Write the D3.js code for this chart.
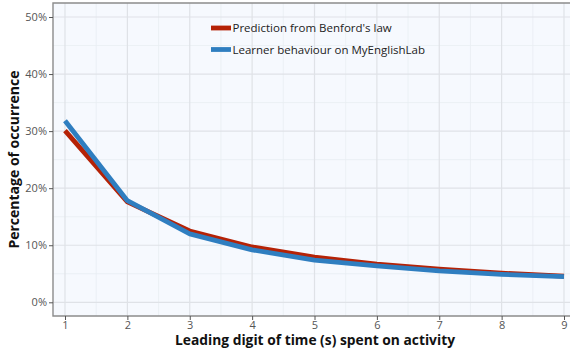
<!DOCTYPE html>
<html>
<head>
<meta charset="utf-8">
<script src="https://cdn.jsdelivr.net/npm/d3@7"></script>
<style>
  html, body { margin: 0; padding: 0; background: #ffffff; }
  svg { display: block; font-family: "Open Sans", "Noto Sans", sans-serif; }
</style>
</head>
<body>
<svg id="chart" width="570" height="351"></svg>
<script>
// Leading digits 1-9
const digits = [1, 2, 3, 4, 5, 6, 7, 8, 9];
// Benford's law expected share (%)
const benford = [30.1, 17.6, 12.5, 9.7, 7.9, 6.7, 5.8, 5.1, 4.6];
// Observed share of time spent per activity (%)
const learner = [31.8, 17.8, 12.0, 9.2, 7.4, 6.4, 5.5, 4.9, 4.5];
const yTicks = [0, 10, 20, 30, 40, 50];
const seriesNames = ["Prediction from Benford's law", "Learner behaviour on MyEnglishLab"];
const seriesColors = ["#b52206", "#2f7ec0"];

const svg = d3.select("#chart");
const panel = { left: 53, right: 571, top: 3, bottom: 316 };

const x = d3.scaleLinear().domain([1, 9]).range([65, 564]);
const y = d3.scaleLinear().domain([0, 50]).range([302.3, 17]);

// panel background
svg.append("rect")
  .attr("x", panel.left).attr("y", panel.top)
  .attr("width", panel.right - panel.left).attr("height", panel.bottom - panel.top)
  .attr("fill", "#f6f9fe");

const grid = svg.append("g");
// minor grid
d3.range(1.5, 9, 1).forEach(v => grid.append("line")
  .attr("x1", x(v)).attr("x2", x(v)).attr("y1", panel.top).attr("y2", panel.bottom)
  .attr("stroke", "#e9edf3").attr("stroke-width", 0.8));
d3.range(5, 55, 10).forEach(v => grid.append("line")
  .attr("x1", panel.left).attr("x2", panel.right).attr("y1", y(v)).attr("y2", y(v))
  .attr("stroke", "#e9edf3").attr("stroke-width", 0.8));
// major grid
digits.forEach(v => grid.append("line")
  .attr("x1", x(v)).attr("x2", x(v)).attr("y1", panel.top).attr("y2", panel.bottom)
  .attr("stroke", "#dfe2e7").attr("stroke-width", 1.2));
yTicks.forEach(v => grid.append("line")
  .attr("x1", panel.left).attr("x2", panel.right).attr("y1", y(v)).attr("y2", y(v))
  .attr("stroke", "#dfe2e7").attr("stroke-width", 1.2));

// data lines
const line = d3.line().x((d, i) => x(digits[i])).y(d => y(d));
[benford, learner].forEach((s, k) => {
  svg.append("path").datum(s)
    .attr("d", line)
    .attr("fill", "none")
    .attr("stroke", seriesColors[k])
    .attr("stroke-width", 4.8)
    .attr("stroke-linejoin", "round");
});

// panel border (left, top, bottom)
svg.append("path")
  .attr("d", `M${panel.right},${panel.top}H${panel.left}V${panel.bottom}H${panel.right}`)
  .attr("fill", "none").attr("stroke", "#8c8c8c").attr("stroke-width", 1.4);

// axes
const yAxis = d3.axisLeft(y).tickValues(yTicks).tickFormat(d => d + "%").tickSize(4).tickPadding(2);
const gy = svg.append("g").attr("transform", `translate(${panel.left},0)`).call(yAxis);
gy.select(".domain").remove();
gy.selectAll(".tick line").attr("stroke", "#555").attr("stroke-width", 1);
gy.selectAll(".tick text").attr("fill", "#555").attr("font-size", 11)
  .attr("font-family", "'Open Sans', sans-serif");

const xAxis = d3.axisBottom(x).tickValues(digits).tickFormat(d3.format("d")).tickSize(4).tickPadding(1);
const gx = svg.append("g").attr("transform", `translate(0,${panel.bottom})`).call(xAxis);
gx.select(".domain").remove();
gx.selectAll(".tick line").attr("stroke", "#555").attr("stroke-width", 1);
gx.selectAll(".tick text").attr("fill", "#555").attr("font-size", 11)
  .attr("font-family", "'Open Sans', sans-serif");

// axis titles
svg.append("text")
  .attr("x", 315).attr("y", 345)
  .attr("text-anchor", "middle").attr("font-size", 13.8).attr("font-weight", "bold")
  .attr("fill", "#111")
  .text("Leading digit of time (s) spent on activity");
svg.append("text")
  .attr("transform", `translate(19,${(panel.top + panel.bottom) / 2}) rotate(-90)`)
  .attr("text-anchor", "middle").attr("font-size", 14).attr("font-weight", "bold")
  .attr("fill", "#111")
  .text("Percentage of occurrence");

// legend
const legend = svg.append("g").attr("transform", "translate(211,28)");
seriesNames.forEach((name, i) => {
  const g = legend.append("g").attr("transform", `translate(0,${i * 21.5})`);
  g.append("line").attr("x1", 0).attr("x2", 20).attr("y1", 0).attr("y2", 0)
    .attr("stroke", seriesColors[i]).attr("stroke-width", 4.8);
  g.append("text").attr("x", 21.5).attr("y", 0).attr("dy", "0.36em")
    .attr("font-size", 11.5).attr("fill", "#222").text(name);
});
</script>
</body>
</html>
